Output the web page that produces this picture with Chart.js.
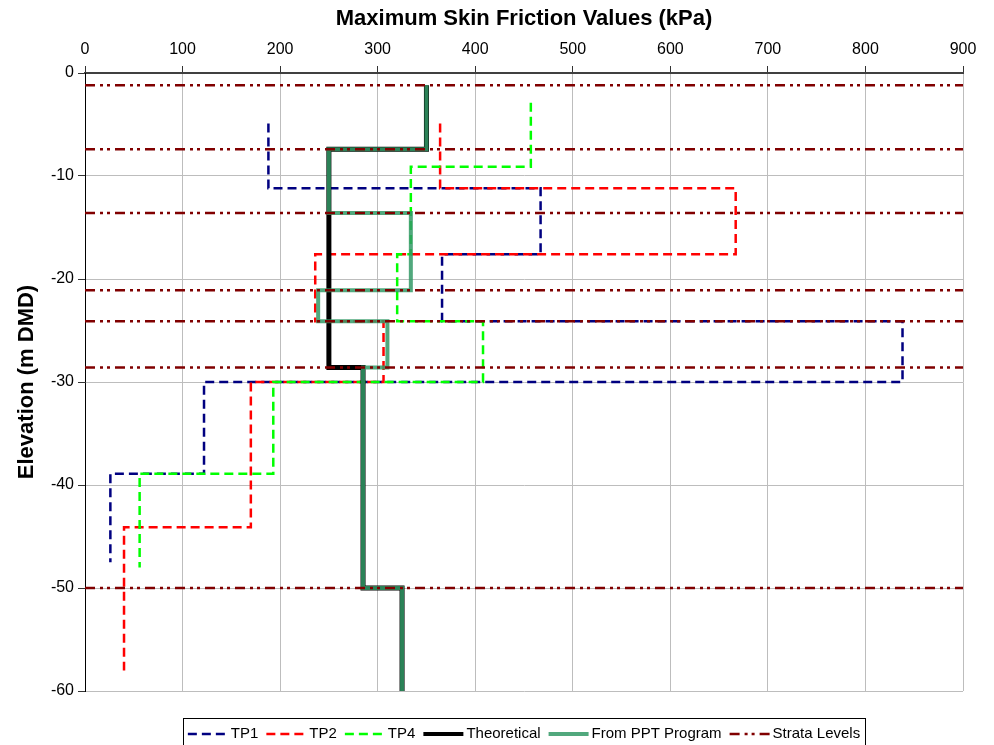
<!DOCTYPE html>
<html>
<head>
<meta charset="utf-8">
<script src="https://cdn.jsdelivr.net/npm/chart.js@4/dist/chart.umd.min.js"></script>
<style>
  html, body { margin: 0; padding: 0; background: #fff; }
  #chart1 { display: block; }
</style>
</head>
<body>
<canvas id="chart1" width="994" height="745"></canvas>
<script>
// Глибини (м DMD) та значення тертя (кПа) для кожної серії
const tp1Depths = [-4.9, -11.2, -17.6, -24.1, -30, -38.9, -47.5];
const tp1Values = [188, 467, 366, 838, 122, 26];

const tp2Depths = [-4.9, -11.2, -17.6, -24.1, -30, -44.1, -58];
const tp2Values = [364, 667, 236, 306, 170, 40];

const tp4Depths = [-2.9, -9.1, -17.6, -24.1, -30, -38.9, -48];
const tp4Values = [457, 334, 320, 408, 193, 56];

const theoryDepths = [-1.2, -7.4, -28.6, -50, -60];
const theoryValues = [350, 250, 285, 325];

const pptDepths = [-1.2, -7.4, -13.6, -21.1, -24.1, -28.6, -50, -60];
const pptValues = [350, 250, 334, 239, 310, 285, 325];

const strataLevels = [-1.2, -7.4, -13.6, -21.1, -24.1, -28.6, -50];

const xTicks = [0, 100, 200, 300, 400, 500, 600, 700, 800, 900];
const yTicks = [0, -10, -20, -30, -40, -50, -60];

const FONT = '"Liberation Sans", Arial, sans-serif';

// Ступінчаста лінія з глибин і значень
function stepPoints(depths, values) {
  const pts = [];
  values.forEach((v, i) => {
    pts.push({ x: v, y: depths[i] });
    pts.push({ x: v, y: depths[i + 1] });
  });
  return pts;
}

// Горизонтальні лінії шарів, розірвані між собою
function strataPoints(levels) {
  const pts = [];
  levels.forEach((lvl) => {
    pts.push({ x: xTicks[0], y: lvl });
    pts.push({ x: xTicks[xTicks.length - 1], y: lvl });
    pts.push({ x: NaN, y: NaN });
  });
  return pts;
}

const datasets = [
  { label: "TP1", data: stepPoints(tp1Depths, tp1Values), borderColor: "#000080", borderWidth: 2.5, borderDash: [9, 5], order: 5 },
  { label: "TP2", data: stepPoints(tp2Depths, tp2Values), borderColor: "#ff0000", borderWidth: 2.5, borderDash: [9, 5], order: 4 },
  { label: "TP4", data: stepPoints(tp4Depths, tp4Values), borderColor: "#00ff00", borderWidth: 2.5, borderDash: [9, 5], order: 3 },
  { label: "Theoretical", data: stepPoints(theoryDepths, theoryValues), borderColor: "#000000", borderWidth: 5, borderDash: [], order: 2 },
  { label: "From PPT Program", data: stepPoints(pptDepths, pptValues), borderColor: "rgba(51,153,102,0.85)", borderWidth: 4, borderDash: [], order: 1 },
  { label: "Strata Levels", data: strataPoints(strataLevels), borderColor: "#800000", borderWidth: 2.5, borderDash: [10, 5, 3, 4, 3, 5], order: 0 },
];

datasets.forEach((ds) => {
  ds.showLine = true;
  ds.pointRadius = 0;
  ds.pointHoverRadius = 0;
  ds.tension = 0;
  ds.fill = false;
  ds.borderJoinStyle = "miter";
  ds.spanGaps = false;
});

// Легенда в рамці під графіком
const boxedLegend = {
  id: "boxedLegend",
  afterDraw(chart) {
    const ctx = chart.ctx;
    const area = chart.chartArea;
    const sample = 40, gapText = 3, gapItem = 8, pad = 5;
    ctx.save();
    ctx.font = "15px " + FONT;
    const items = chart.data.datasets.map((ds) => ({ ds, w: ctx.measureText(ds.label).width }));
    let total = 0;
    items.forEach((it, i) => { total += sample + gapText + it.w + (i < items.length - 1 ? gapItem : 0); });
    const boxW = total + pad * 2;
    const left = (area.left + area.right) / 2 - boxW / 2;
    const top = area.bottom + 27;
    const cy = top + 16;
    ctx.strokeStyle = "#000";
    ctx.lineWidth = 1;
    ctx.setLineDash([]);
    ctx.strokeRect(Math.round(left) + 0.5, Math.round(top) + 0.5, Math.round(boxW), 60);
    let x = left + pad;
    items.forEach((it) => {
      ctx.beginPath();
      ctx.strokeStyle = it.ds.borderColor;
      ctx.lineWidth = Math.min(it.ds.borderWidth, 4);
      ctx.setLineDash(it.ds.borderDash || []);
      ctx.moveTo(x, cy);
      ctx.lineTo(x + sample, cy);
      ctx.stroke();
      x += sample + gapText;
      ctx.setLineDash([]);
      ctx.fillStyle = "#000";
      ctx.textBaseline = "middle";
      ctx.textAlign = "left";
      ctx.fillText(it.ds.label, x, cy);
      x += it.w + gapItem;
    });
    ctx.restore();
  },
};

const ctx = document.getElementById("chart1").getContext("2d");
new Chart(ctx, {
  type: "scatter",
  data: { datasets },
  options: {
    responsive: false,
    animation: false,
    devicePixelRatio: 1,
    layout: { padding: { left: 0, top: 0, right: 31, bottom: 54 } },
    plugins: {
      legend: { display: false },
      tooltip: { enabled: false },
    },
    scales: {
      x: {
        type: "linear",
        position: "top",
        min: 0,
        max: 900,
        afterBuildTicks: (scale) => { scale.ticks = xTicks.map((v) => ({ value: v })); },
        afterFit: (scale) => { scale.height = 73; },
        ticks: { color: "#000", font: { family: FONT, size: 16 }, padding: 7 },
        grid: { color: "#bdbdbd", tickColor: "#333", tickLength: 7, lineWidth: 1 },
        border: { color: "#404040", width: 2 },
        title: {
          display: true,
          text: "Maximum Skin Friction Values (kPa)",
          color: "#000",
          font: { family: FONT, size: 22, weight: "bold" },
          padding: { top: 6, bottom: 0 },
        },
      },
      y: {
        type: "linear",
        position: "left",
        min: -60,
        max: 0,
        afterBuildTicks: (scale) => { scale.ticks = yTicks.map((v) => ({ value: v })); },
        afterFit: (scale) => { scale.width = 85; },
        ticks: { color: "#000", font: { family: FONT, size: 16 }, padding: 4 },
        grid: { color: "#bdbdbd", tickColor: "#333", tickLength: 7, lineWidth: 1 },
        border: { color: "#000", width: 1 },
        title: {
          display: true,
          text: "Elevation (m DMD)",
          color: "#000",
          font: { family: FONT, size: 22, weight: "bold" },
          padding: { top: 14, bottom: 0 },
        },
      },
    },
  },
  plugins: [boxedLegend],
});
</script>
</body>
</html>
